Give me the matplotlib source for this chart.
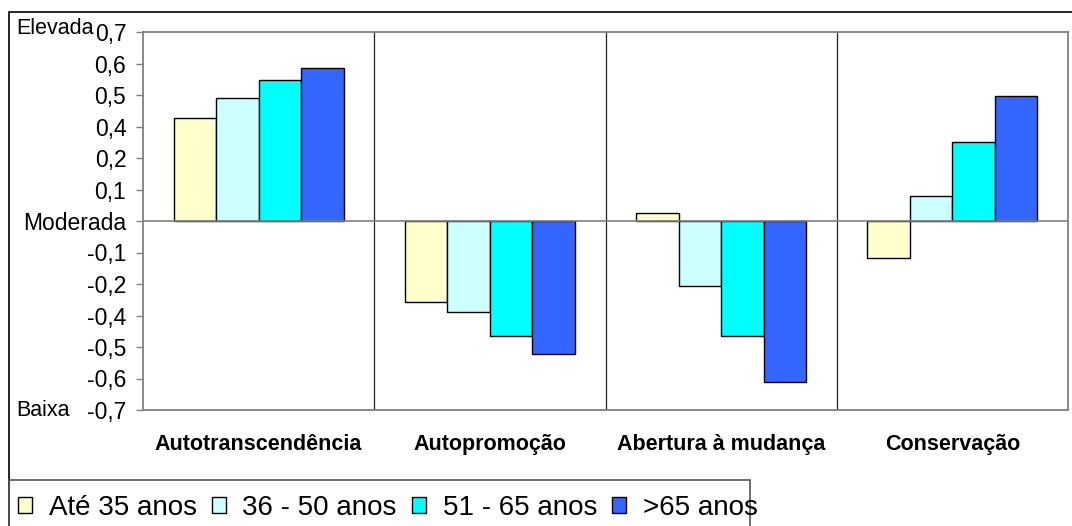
import matplotlib
matplotlib.use("Agg")
import matplotlib.pyplot as plt
import matplotlib.transforms as mtransforms
from matplotlib.patches import Rectangle
import numpy as np


plt.rcParams.update({
    "font.family": ["Liberation Sans", "DejaVu Sans"],
    "font.size": 15,
})

W, H = 1072, 526

# ---- data ----
categories = ["Autotranscendência", "Autopromoção", "Abertura à mudança", "Conservação"]
groups = ["Até 35 anos", "36 - 50 anos", "51 - 65 anos", ">65 anos"]
ate35 = [0.381, -0.300, 0.028, -0.136]
de36a50 = [0.456, -0.337, -0.241, 0.093]
de51a65 = [0.522, -0.426, -0.426, 0.291]
mais65 = [0.565, -0.493, -0.595, 0.462]
series = [ate35, de36a50, de51a65, mais65]
colors = ["#FFFFCC", "#CCFFFF", "#00FFFF", "#3366FF"]

ytick_labels = ["-0,7", "-0,6", "-0,5", "-0,4", "-0,2", "-0,1", "Moderada",
                "0,1", "0,2", "0,4", "0,5", "0,6", "0,7"]


fig = plt.figure(figsize=(W / 100, H / 100), dpi=100)
ax = fig.add_axes([143 / W, 1 - 410 / H, 925 / W, 378 / H])

x = np.arange(len(categories))
bw = 0.184
for i, (vals, c, lab) in enumerate(zip(series, colors, groups)):
    ax.bar(x + (i - 1.5) * bw, vals, width=bw, color=c,
           edgecolor="black", linewidth=1.0, label=lab, zorder=3)

ax.set_xlim(-0.5, len(categories) - 0.5)
ax.set_ylim(-0.7, 0.7)

ax.set_yticks(np.linspace(-0.7, 0.7, 13))
ax.set_yticklabels(ytick_labels)
ax.tick_params(axis="y", length=5, width=1, color="#808080", pad=7, labelsize=16.5)

ax.set_xticks(x)
ax.set_xticklabels(categories, fontweight="bold", fontsize=15.5)
ax.tick_params(axis="x", length=0, pad=17)

# category dividers
ax.set_xticks(x[:-1] + 0.5, minor=True)
ax.tick_params(axis="x", which="minor", length=0)
ax.grid(True, axis="x", which="minor", color="#202020", linewidth=0.9, zorder=1)
ax.grid(False, axis="x", which="major")
ax.grid(False, axis="y")

ax.axhline(0, color="#808080", linewidth=1.2, zorder=4)

for s in ax.spines.values():
    s.set_color("#808080")
    s.set_linewidth(1.3)

# side labels
tr = mtransforms.blended_transform_factory(fig.transFigure, ax.transData)
fig.text(16 / W, 0.712, "Elevada", transform=tr, ha="left", va="center",
         fontsize=15.5)
fig.text(16 / W, -0.7, "Baixa", transform=tr, ha="left", va="center",
         fontsize=15.5)

# chart area border and legend box
fig.patches.append(Rectangle((9 / W, -0.2), 1.2, 1.2 - 12 / H,
                             transform=fig.transFigure, fill=False,
                             edgecolor="black", linewidth=1.2))
fig.patches.append(Rectangle((9 / W, -0.2), (750 - 9) / W, 0.2 + 1 - 480 / H,
                             transform=fig.transFigure, fill=False,
                             edgecolor="#555555", linewidth=1.2))

fig.legend(loc="center left", bbox_to_anchor=(18 / W, 1 - 508 / H),
           ncol=4, frameon=False, fontsize=20, borderpad=0,
           handlelength=0.5, handleheight=0.5, handletextpad=0.6,
           columnspacing=0.55, borderaxespad=0)

fig.savefig("out.png", dpi=100)
plt.close(fig)
